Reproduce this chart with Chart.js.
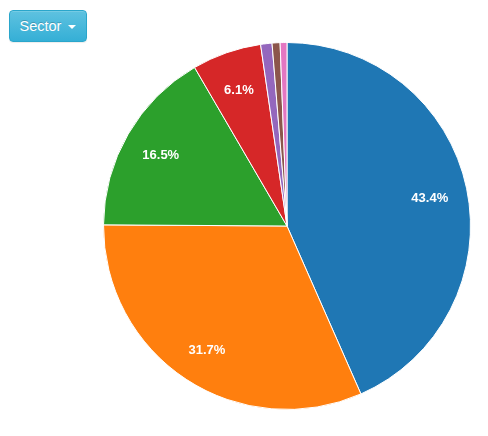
<!DOCTYPE html>
<html>
<head>
<meta charset="utf-8">
<script src="https://cdn.jsdelivr.net/npm/chart.js@4"></script>
<style>
  body { margin: 0; background: #fff; font-family: "Helvetica Neue", "Liberation Sans", Arial, sans-serif; }
  .btn {
    position: absolute; left: 9px; top: 10px; width: 78px; height: 32px;
    box-sizing: border-box; border: 1px solid #2aa6cb; border-radius: 4px;
    background: linear-gradient(#5ec2e0, #35afd6);
    color: #fff; font-size: 14.5px; line-height: 30px; text-align: center;
    text-shadow: 0 -1px 0 rgba(0,0,0,.2);
    box-shadow: inset 0 1px 0 rgba(255,255,255,.15), 0 1px 1px rgba(0,0,0,.075);
  }
  .caret {
    display: inline-block; width: 0; height: 0; margin-left: 3px; vertical-align: middle;
    border-top: 4px solid #fff; border-left: 4px solid transparent; border-right: 4px solid transparent;
  }
  #wrap { position: absolute; left: 103px; top: 42px; width: 368px; height: 368px; }
</style>
</head>
<body>
<div class="btn">Sector <span class="caret"></span></div>
<div id="wrap"><canvas id="pie"></canvas></div>
<script>
// sectors and their share of the total
var sectors = ['Sector 1', 'Sector 2', 'Sector 3', 'Sector 4', 'Sector 5', 'Sector 6', 'Sector 7'];
var shares = [43.4, 31.7, 16.5, 6.1, 1.0, 0.7, 0.6];
var colors = ['#1f77b4', '#ff7f0e', '#2ca02c', '#d62728', '#9467bd', '#8c564b', '#e377c2'];

// percent labels inside the slices, skipped for tiny slices
var pctLabels = {
    id: 'pctLabels',
    afterDatasetsDraw: function(chart) {
        var ctx = chart.ctx;
        var meta = chart.getDatasetMeta(0);
        var total = shares.reduce(function(a, b) { return a + b; }, 0);
        ctx.save();
        ctx.fillStyle = '#fff';
        ctx.font = 'bold 13px "Helvetica Neue", "Liberation Sans", Arial, sans-serif';
        ctx.textAlign = 'center';
        ctx.textBaseline = 'middle';
        meta.data.forEach(function(arc, i) {
            var frac = shares[i] / total;
            if (frac < 0.05) return;
            var p = arc.getProps(['x', 'y', 'startAngle', 'endAngle', 'outerRadius'], true);
            var mid = (p.startAngle + p.endAngle) / 2;
            var r = p.outerRadius * 0.795;
            ctx.fillText((frac * 100).toFixed(1) + '%', p.x + Math.cos(mid) * r, p.y + Math.sin(mid) * r + 2.5);
        });
        ctx.restore();
    }
};

new Chart(document.getElementById('pie'), {
    type: 'pie',
    data: {
        labels: sectors,
        datasets: [{
            data: shares,
            backgroundColor: colors,
            borderColor: '#fff',
            borderWidth: 1
        }]
    },
    options: {
        responsive: true,
        maintainAspectRatio: false,
        animation: false,
        layout: { padding: 0 },
        plugins: {
            legend: { display: false },
            tooltip: { enabled: true }
        }
    },
    plugins: [pctLabels]
});
</script>
</body>
</html>
